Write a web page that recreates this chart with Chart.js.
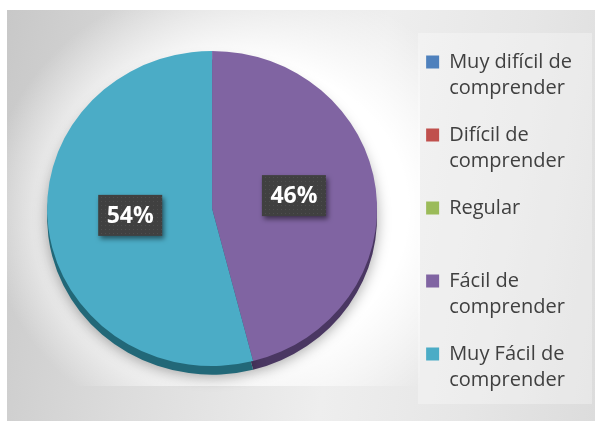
<!DOCTYPE html>
<html lang="es">
<head>
<meta charset="utf-8">
<title>Comprensión</title>
<script src="https://cdn.jsdelivr.net/npm/chart.js@4.4.1/dist/chart.umd.min.js"></script>
<style>
  html, body { margin: 0; padding: 0; background: #fff; }
  #frame { position: relative; width: 599px; height: 421px; overflow: hidden; }
  #panel {
    position: absolute; left: 7px; top: 10px; width: 588px; height: 411px;
    background: linear-gradient(100deg, #c8c8c8 0%, #dcdcdc 28%, #eeeeee 58%, #e6e6e6 80%, #dcdcdc 100%);
  }
  #plotBg {
    position: absolute; left: 7px; top: 10px; width: 413px; height: 376px;
    background: radial-gradient(ellipse 260px 235px at 240px 200px, rgba(255,255,255,1) 62%, rgba(255,255,255,0) 100%);
  }
  #legendBg {
    position: absolute; left: 418px; top: 33px; width: 174px; height: 371px;
    background: rgba(255,255,255,0.3);
  }
  #wrap { position: absolute; left: 0; top: 0; width: 599px; height: 421px; }
</style>
</head>
<body>
<div id="frame">
  <div id="panel"></div>
  <div id="plotBg"></div>
  <div id="legendBg"></div>
  <div id="wrap"><canvas id="comprensionChart"></canvas></div>
</div>
<script>
// Categorías (cada una partida en líneas para la leyenda) y porcentajes
const categories = [
    ['Muy difícil de', 'comprender'],
    ['Difícil de', 'comprender'],
    ['Regular', ''],
    ['Fácil de', 'comprender'],
    ['Muy Fácil de', 'comprender']
];
const percentages = [0, 0, 0, 46, 54];

const sliceColors = ['#4f81bd', '#c0504d', '#9bbb59', '#8064a2', '#4bacc6'];
const edgeColors = ['#2d4c73', '#742d2b', '#5c7232', '#4a3762', '#226878'];

// Pie look: slightly flattened, with a dark rim underneath
const PIE_RADIUS = 165;
const PIE_SQUASH = 0.955;
const PIE_LIFT = 17.5;
const PIE_DEPTH = 9;

function squash(ctx, cy) {
    ctx.translate(0, cy - PIE_LIFT);
    ctx.scale(1, PIE_SQUASH);
    ctx.translate(0, -cy);
}

// small dotted texture for the label boxes
const dotTile = document.createElement('canvas');
dotTile.width = dotTile.height = 4;
const dctx = dotTile.getContext('2d');
dctx.fillStyle = '#404040';
dctx.fillRect(0, 0, 4, 4);
dctx.fillStyle = '#4e4e4e';
dctx.fillRect(1, 1, 1, 1);

const pie3d = {
    id: 'pie3d',
    beforeDatasetsDraw(chart) {
        const ctx = chart.ctx;
        const arcs = chart.getDatasetMeta(0).data;
        ctx.save();
        squash(ctx, arcs[0].y);
        // rim
        ctx.save();
        ctx.translate(0, PIE_DEPTH);
        ctx.shadowColor = 'rgba(0, 0, 0, 0.35)';
        ctx.shadowBlur = 14;
        ctx.shadowOffsetY = 2;
        arcs.forEach((arc, i) => {
            const rim = Object.assign(Object.create(Object.getPrototypeOf(arc)), arc);
            rim.options = Object.assign({}, arc.options, { backgroundColor: edgeColors[i] });
            rim.draw(ctx);
        });
        ctx.restore();
    },
    afterDatasetsDraw(chart) {
        const ctx = chart.ctx;
        ctx.restore();

        // percentage labels
        const arcs = chart.getDatasetMeta(0).data;
        const cy = arcs[0].y;
        const pattern = ctx.createPattern(dotTile, 'repeat');
        ctx.save();
        ctx.font = 'bold 23px "Open Sans"';
        ctx.textAlign = 'center';
        ctx.textBaseline = 'middle';
        arcs.forEach((arc, i) => {
            if (!percentages[i]) return;
            const p = arc.getCenterPoint();
            const x = p.x;
            const y = cy - PIE_LIFT + (p.y - cy) * PIE_SQUASH - 3;
            const w = 64, h = 41;
            ctx.shadowColor = 'rgba(0, 0, 0, 0.5)';
            ctx.shadowBlur = 5;
            ctx.shadowOffsetX = 2;
            ctx.shadowOffsetY = 3;
            ctx.fillStyle = pattern;
            ctx.fillRect(x - w / 2, y - h / 2, w, h);
            ctx.shadowColor = 'transparent';
            ctx.fillStyle = '#ffffff';
            ctx.fillText(percentages[i] + '%', x, y + 1);
        });
        ctx.restore();
    }
};

const ctx = document.getElementById('comprensionChart').getContext('2d');
new Chart(ctx, {
    type: 'pie',
    data: {
        labels: categories,
        datasets: [{
            data: percentages,
            backgroundColor: sliceColors,
            borderWidth: 0,
            radius: PIE_RADIUS
        }]
    },
    options: {
        responsive: true,
        maintainAspectRatio: false,
        animation: false,
        layout: {
            padding: { left: 19, right: 17, top: 31, bottom: 0 }
        },
        plugins: {
            tooltip: { enabled: false },
            legend: {
                position: 'right',
                align: 'start',
                labels: {
                    boxWidth: 13,
                    boxHeight: 13,
                    padding: 21,
                    color: '#404040',
                    font: { family: '"Open Sans"', size: 20, lineHeight: 1.3 }
                }
            }
        }
    },
    plugins: [pie3d]
});
</script>
</body>
</html>
